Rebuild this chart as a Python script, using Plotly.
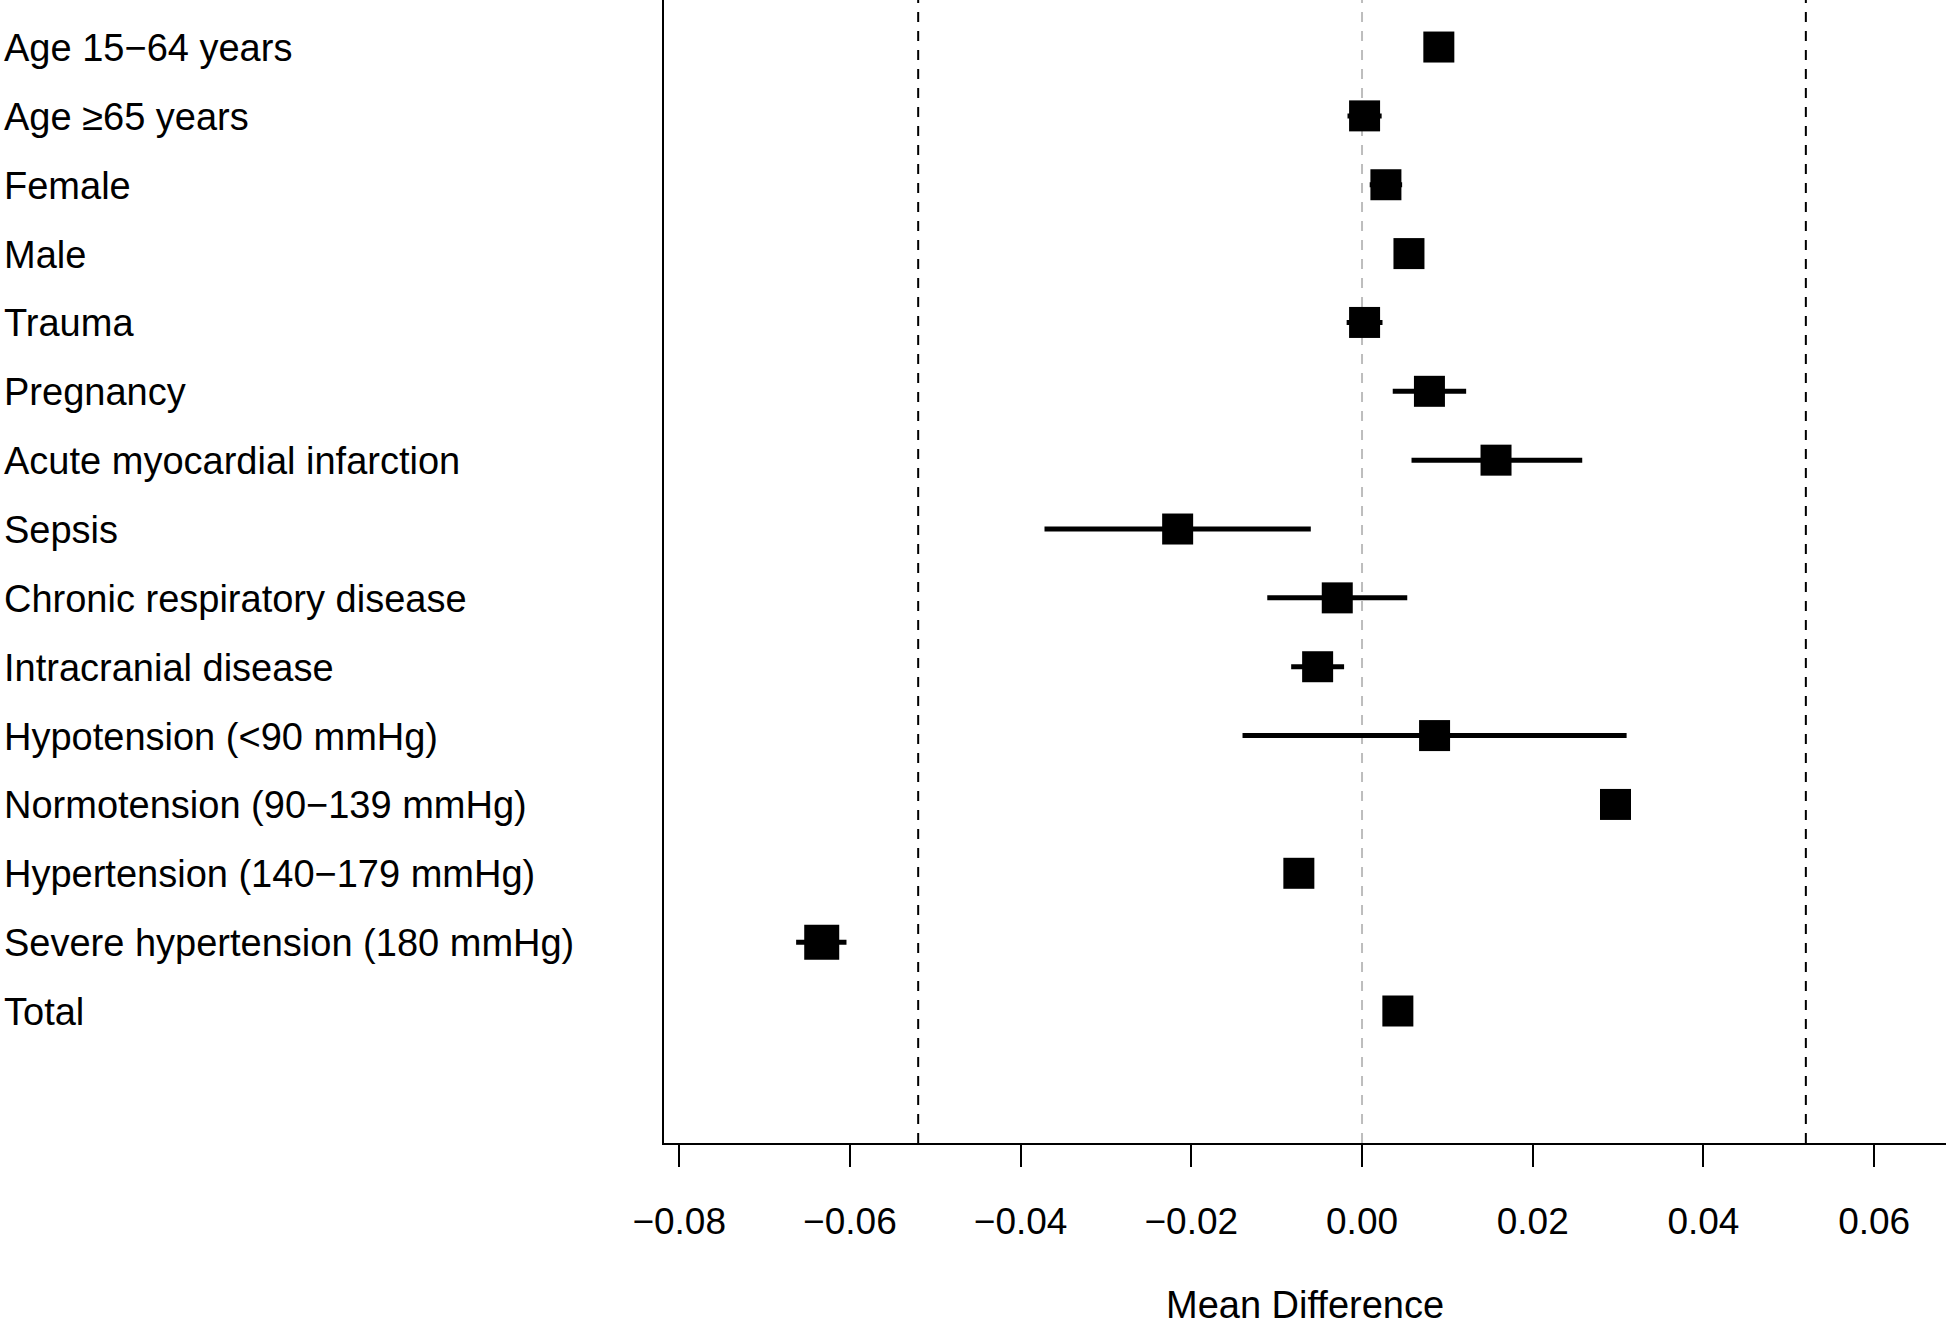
import plotly.graph_objects as go

# Subgroups, top to bottom as they appear in the plot
subgroups = [
    "Age 15\u221264 years",
    "Age \u226565 years",
    "Female",
    "Male",
    "Trauma",
    "Pregnancy",
    "Acute myocardial infarction",
    "Sepsis",
    "Chronic respiratory disease",
    "Intracranial disease",
    "Hypotension (<90 mmHg)",
    "Normotension (90\u2212139 mmHg)",
    "Hypertension (140\u2212179 mmHg)",
    "Severe hypertension (180 mmHg)",
    "Total",
]
mean_diff = [0.0090, 0.0003, 0.0028, 0.0055, 0.0003, 0.0079, 0.0157, -0.0216,
             -0.0029, -0.0052, 0.0085, 0.0297, -0.0074, -0.0633, 0.0042]
ci_lower = [0.0076, -0.0017, 0.0009, 0.0039, -0.0018, 0.0036, 0.0058, -0.0372,
            -0.0111, -0.0083, -0.0140, 0.0289, -0.0082, -0.0663, 0.0036]
ci_upper = [0.0104, 0.0023, 0.0047, 0.0071, 0.0024, 0.0122, 0.0258, -0.0060,
            0.0053, -0.0021, 0.0310, 0.0305, -0.0066, -0.0604, 0.0048]
limits = [-0.052, 0.052]  # limits of agreement
tick_vals = [-0.08, -0.06, -0.04, -0.02, 0.00, 0.02, 0.04, 0.06]
tick_text = ["\u22120.08", "\u22120.06", "\u22120.04", "\u22120.02", "0.00", "0.02", "0.04", "0.06"]

# Figure geometry (pixels)
W, H = 1946, 1320
ML, MB = 664, 177
PLOT_W = W - ML
FONT = "Liberation Sans, Arial, Helvetica, sans-serif"

n = len(subgroups)
rows = list(range(n, 0, -1))  # top row gets the largest y
box_sizes = [31] * n
box_sizes[subgroups.index("Severe hypertension (180 mmHg)")] = 35

fig = go.Figure()

fig.add_trace(go.Scatter(
    x=mean_diff,
    y=rows,
    mode="markers",
    marker=dict(symbol="square", size=box_sizes, color="black", opacity=1, line=dict(width=0)),
    error_x=dict(
        type="data",
        symmetric=False,
        array=[u - m for u, m in zip(ci_upper, mean_diff)],
        arrayminus=[m - l for m, l in zip(mean_diff, ci_lower)],
        color="black",
        thickness=5,
        width=0,
    ),
    showlegend=False,
    hoverinfo="skip",
))

# reference lines: zero (grey) and limits (black)
fig.add_shape(type="line", xref="x", yref="paper", x0=0, x1=0, y0=0, y1=1,
              line=dict(color="#bdbdbd", width=2, dash="10px,9px"), layer="below")
for lim in limits:
    fig.add_shape(type="line", xref="x", yref="paper", x0=lim, x1=lim, y0=0, y1=1,
                  line=dict(color="black", width=2, dash="10px,9px"), layer="below")

# left-aligned subgroup labels
for label, r in zip(subgroups, rows):
    fig.add_annotation(
        text=label, x=(2 - ML) / PLOT_W, xref="paper", y=r, yref="y",
        xanchor="left", yanchor="middle", yshift=-1, showarrow=False,
        font=dict(family=FONT, size=38, color="black"),
    )

fig.add_annotation(
    text="Mean Difference", x=0.5, xref="paper", y=-(1305 - (H - MB)) / (H - MB), yref="paper",
    xanchor="center", yanchor="middle", showarrow=False,
    font=dict(family=FONT, size=38, color="black"),
)

fig.update_layout(
    width=W, height=H,
    margin=dict(l=ML, r=0, t=0, b=MB, pad=0),
    paper_bgcolor="white",
    plot_bgcolor="white",
    font=dict(family=FONT, size=37, color="black"),
    xaxis=dict(
        range=[-0.08178, 0.06842],
        tickvals=tick_vals, ticktext=tick_text,
        ticks="outside", ticklen=22, tickwidth=2, tickcolor="black",
        ticklabelstandoff=23,
        showline=True, linecolor="black", linewidth=2,
        showgrid=False, zeroline=False,
        tickfont=dict(family=FONT, size=37, color="black"),
    ),
    yaxis=dict(
        range=[-0.917, n + 0.683],
        showticklabels=False, ticks="",
        showline=True, linecolor="black", linewidth=2,
        showgrid=False, zeroline=False,
    ),
)

# page body has a default 8px margin; drop it so the figure fills the window
fig.write_html("out.html", config={"displayModeBar": False},
               post_script="document.body.style.margin='0';")
